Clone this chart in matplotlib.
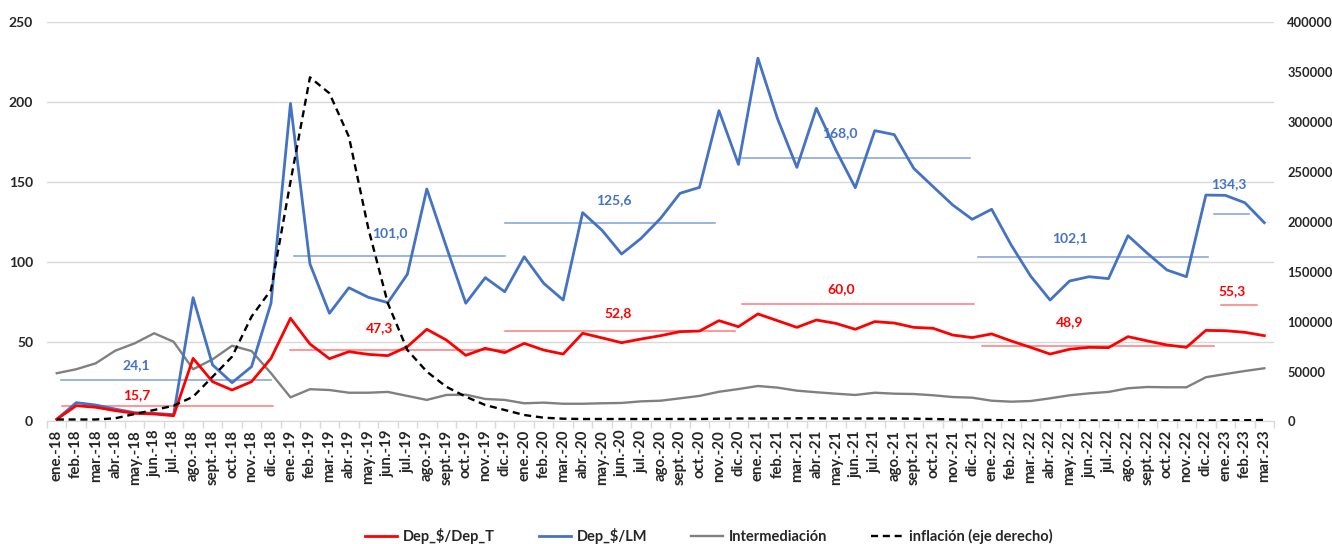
import matplotlib
matplotlib.use("Agg")
import matplotlib.pyplot as plt
from matplotlib.lines import Line2D
import numpy as np

plt.rcParams['font.family'] = ['Lato', 'DejaVu Sans']

labels = ['ene.-18','feb.-18','mar.-18','abr.-18','may.-18','jun.-18','jul.-18','ago.-18','sept.-18','oct.-18','nov.-18','dic.-18',
          'ene.-19','feb.-19','mar.-19','abr.-19','may.-19','jun.-19','jul.-19','ago.-19','sept.-19','oct.-19','nov.-19','dic.-19',
          'ene.-20','feb.-20','mar.-20','abr.-20','may.-20','jun.-20','jul.-20','ago.-20','sept.-20','oct.-20','nov.-20','dic.-20',
          'ene.-21','feb.-21','mar.-21','abr.-21','may.-21','jun.-21','jul.-21','ago.-21','sept.-21','oct.-21','nov.-21','dic.-21',
          'ene.-22','feb.-22','mar.-22','abr.-22','may.-22','jun.-22','jul.-22','ago.-22','sept.-22','oct.-22','nov.-22','dic.-22',
          'ene.-23','feb.-23','mar.-23']

dep_t = [1.4, 9.9, 8.9, 6.8, 5.1, 4.7, 3.6, 39.5, 24.9, 19.7, 24.9, 39.5,
         64.6, 48.5, 39.3, 43.7, 42.0, 41.2, 46.8, 57.7, 51.0, 41.4, 45.8, 43.1,
         48.9, 44.7, 42.2, 55.2, 52.3, 49.3, 51.6, 53.7, 56.2, 56.6, 63.1, 59.3,
         67.3, 63.1, 58.9, 63.5, 61.4, 57.7, 62.5, 61.6, 58.9, 58.3, 54.1, 52.5,
         54.8, 50.4, 46.4, 42.2, 45.2, 46.4, 46.2, 53.1, 50.4, 47.9, 46.4, 57.0,
         56.8, 55.8, 53.7]

dep_lm = [1.4, 11.8, 10.3, 7.8, 5.5, 5.1, 4.3, 77.5, 35.4, 24.3, 34.3, 74.0,
          199.0, 98.6, 67.7, 83.7, 77.7, 74.4, 92.1, 145.5, 109.4, 74.0, 90.0, 81.2,
          103.1, 86.5, 76.0, 130.7, 119.6, 104.8, 114.6, 127.1, 142.8, 146.5, 194.5, 160.9,
          227.3, 189.7, 159.0, 196.0, 169.9, 146.3, 182.0, 179.5, 158.4, 146.9, 135.5, 126.5,
          132.8, 110.5, 91.0, 76.0, 87.9, 90.6, 89.4, 116.3, 105.2, 94.8, 90.6, 141.7,
          141.5, 136.9, 124.4]

intermed = [30.2, 32.7, 36.4, 44.3, 48.9, 55.2, 49.9, 32.7, 38.9, 47.4, 44.1, 30.2,
            15.1, 20.2, 19.7, 18.0, 18.0, 18.5, 16.0, 13.5, 16.6, 16.8, 14.1, 13.5,
            11.4, 11.8, 11.1, 11.1, 11.4, 11.6, 12.6, 13.0, 14.5, 16.0, 18.6, 20.3,
            22.2, 21.2, 19.3, 18.3, 17.4, 16.6, 18.0, 17.4, 17.2, 16.4, 15.3, 14.9,
            13.0, 12.4, 12.8, 14.5, 16.4, 17.6, 18.5, 20.8, 21.6, 21.4, 21.4, 27.7,
            29.7, 31.6, 33.3]

inflacion = [2000, 2000, 2000, 3200, 7500, 11500, 15800, 24800, 44800, 64900, 105000, 131700,
             240000, 344600, 328600, 285100, 193000, 118300, 71600, 49900, 34800, 24800, 16500, 11500,
             6500, 3800, 2800, 2500, 2500, 2500, 2500, 2500, 2500, 2500, 2800, 3000,
             3000, 3000, 3200, 3200, 3000, 3000, 3000, 3000, 2800, 2500, 2000, 1800,
             1500, 1200, 1000, 1000, 1000, 1000, 1000, 1000, 1000, 1000, 1000, 1000,
             1200, 1200, 1500]

# average segments: (start index, end index, level)
avg_lm_start = [0.2, 12.2, 23.0, 35.2, 47.3, 59.4]
avg_lm_end = [11.0, 23.0, 33.8, 46.9, 59.1, 61.2]
avg_lm_level = [25.8, 103.6, 124.4, 165.1, 103.1, 129.7]
avg_t_start = [0.27, 12.0, 23.0, 35.2, 47.5, 59.8]
avg_t_end = [11.1, 23.0, 34.8, 47.1, 59.4, 61.6]
avg_t_level = [9.7, 44.5, 56.6, 73.5, 47.2, 72.9]

lm_text = ['24,1', '101,0', '125,6', '168,0', '102,1', '134,3']
lm_text_x = [4.1, 17.1, 28.6, 40.2, 52.0, 60.2]
lm_text_y = [35.4, 117.8, 138.6, 180.3, 115.0, 148.8]
t_text = ['15,7', '47,3', '52,8', '60,0', '48,9', '55,3']
t_text_x = [4.1, 16.6, 28.8, 40.3, 52.0, 60.35]
t_text_y = [16.6, 58.3, 68.1, 82.7, 62.1, 81.9]

RED = '#FF0000'
BLUE = '#4472C4'
GRAY = '#808080'

fig = plt.figure(figsize=(13.32, 5.44), dpi=100)
ax = fig.add_axes([0.0353, 0.2252, 0.9212, 0.7344])
ax2 = ax.twinx()

x = np.arange(len(labels))

ax.set_ylim(0, 250)
ax.set_yticks(np.arange(0, 251, 50))
ax.set_xlim(-0.5, len(labels) - 0.5)
ax.grid(axis='y', color='#d9d9d9', lw=1)
ax.set_axisbelow(True)

for s, e, l in zip(avg_lm_start, avg_lm_end, avg_lm_level):
    ax.plot([s, e], [l, l], color='#7F9FDA', lw=1.1, zorder=2)
for s, e, l in zip(avg_t_start, avg_t_end, avg_t_level):
    ax.plot([s, e], [l, l], color='#FF7B7B', lw=1.1, zorder=2)

ax.plot(x, intermed, color=GRAY, lw=1.7, zorder=3)
ax.plot(x, dep_lm, color=BLUE, lw=2.0, zorder=4)
ax.plot(x, dep_t, color=RED, lw=2.0, zorder=5)

for t, tx, ty in zip(lm_text, lm_text_x, lm_text_y):
    ax.text(tx, ty, t, color=BLUE, fontsize=10, fontweight='bold', ha='center', va='center', zorder=6)
for t, tx, ty in zip(t_text, t_text_x, t_text_y):
    ax.text(tx, ty, t, color=RED, fontsize=10, fontweight='bold', ha='center', va='center', zorder=6)

ax2.plot(x, inflacion, color='black', lw=1.7, ls=(0, (3, 2)), zorder=7)
ax2.set_ylim(0, 400000)
ax2.set_yticks(np.arange(0, 400001, 50000))

ax.set_xticks(x)
ax.set_xticklabels(labels, rotation=90, fontsize=10.8, fontweight='bold', color='#262626')
ax.set_xticks(np.arange(-0.5, len(labels), 1), minor=True)
ax.tick_params(axis='x', which='major', length=0, pad=6)
ax.tick_params(axis='x', which='minor', length=5, color='#d9d9d9', width=1)
ax.tick_params(axis='y', length=0, labelsize=10, pad=10)
ax2.tick_params(axis='y', length=0, labelsize=9.3, pad=9.5)
for lab in ax.get_yticklabels() + ax2.get_yticklabels():
    lab.set_fontweight('bold')
    lab.set_color('#262626')

for a in (ax, ax2):
    for sp in a.spines.values():
        sp.set_visible(False)
ax.spines['bottom'].set_visible(True)
ax.spines['bottom'].set_color('#d9d9d9')

handles = [Line2D([], [], color=RED, lw=2.0),
           Line2D([], [], color=BLUE, lw=2.0),
           Line2D([], [], color=GRAY, lw=1.7),
           Line2D([], [], color='black', lw=1.7, ls=(0, (3, 2)))]
names = ['Dep_$/Dep_T', 'Dep_$/LM', 'Intermediación', 'inflación (eje derecho)']
leg = fig.legend(handles, names, loc='center', bbox_to_anchor=(0.532, 0.015), ncol=4,
                 frameon=False, handlelength=2.2, handletextpad=0.4, columnspacing=3.0,
                 prop={'size': 10.5, 'weight': 'bold'})
for t in leg.get_texts():
    t.set_color('#262626')

fig.savefig('out.png', dpi=100)
